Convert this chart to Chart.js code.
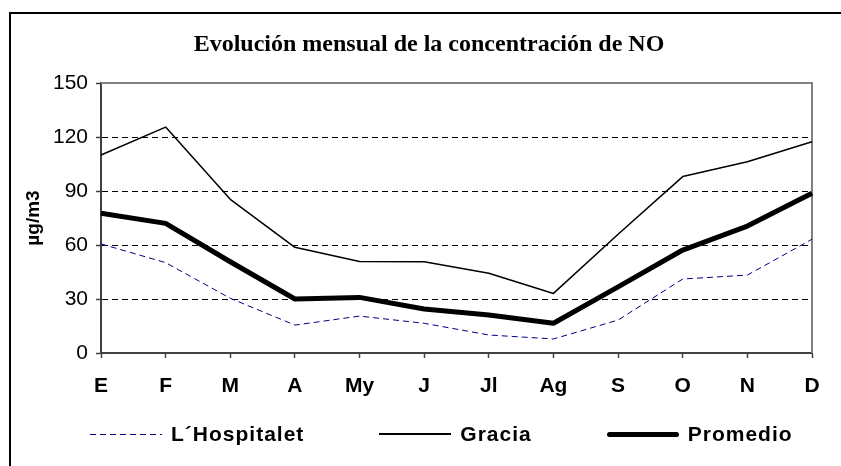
<!DOCTYPE html>
<html>
<head>
<meta charset="utf-8">
<script src="https://cdn.jsdelivr.net/npm/chart.js@4"></script>
<style>
  html, body { margin: 0; padding: 0; background: #fff; }
  #wrap { width: 841px; height: 466px; position: relative; overflow: hidden; }
  #leyenda {
    position: absolute; left: 90px; top: 421px; height: 26px;
    display: flex; align-items: center; gap: 75px;
    font: bold 21px "Liberation Sans", Arial, sans-serif; letter-spacing: 1px; color: #000;
  }
  #leyenda .item { display: flex; align-items: center; }
  #leyenda .linea { display: inline-block; width: 72px; margin-right: 9px; }
</style>
</head>
<body>
<div id="wrap">
  <canvas id="grafico" width="841" height="466"></canvas>
  <div id="leyenda"></div>
</div>
<script>
let meses = ['E', 'F', 'M', 'A', 'My', 'J', 'Jl', 'Ag', 'S', 'O', 'N', 'D'];
let hospitalet = [60.6, 50.2, 30.4, 15.5, 20.5, 16.5, 10, 7.8, 18.3, 41.1, 43.3, 63.2];
let gracia = [110, 125.5, 85.4, 58.7, 50.8, 50.7, 44.3, 33.1, 66, 98, 106.3, 117.4];
let promedio = [77.6, 72, 50.7, 30, 30.9, 24.4, 21.1, 16.5, 36.7, 57.2, 70.5, 88.7];
let ticksY = [0, 30, 60, 90, 120, 150];

// marco exterior y bordes gris del area de trazado
const marcos = {
    id: 'marcos',
    beforeDraw(chart) {
        const ctx = chart.ctx;
        ctx.save();
        ctx.strokeStyle = '#000';
        ctx.lineWidth = 2;
        ctx.beginPath();
        ctx.moveTo(10, 466);
        ctx.lineTo(10, 13);
        ctx.lineTo(841, 13);
        ctx.stroke();
        ctx.restore();
    },
    beforeDatasetsDraw(chart) {
        const a = chart.chartArea;
        const ctx = chart.ctx;
        ctx.save();
        ctx.strokeStyle = '#808080';
        ctx.lineWidth = 2;
        ctx.beginPath();
        ctx.moveTo(a.left, a.top);
        ctx.lineTo(a.right, a.top);
        ctx.lineTo(a.right, a.bottom);
        ctx.stroke();
        ctx.restore();
    }
};

// leyenda en html, hecha a partir de los datasets
const leyendaHtml = {
    id: 'leyendaHtml',
    afterUpdate(chart) {
        const caja = document.getElementById('leyenda');
        caja.innerHTML = '';
        chart.data.datasets.forEach(ds => {
            const item = document.createElement('div');
            item.className = 'item';
            const linea = document.createElement('span');
            linea.className = 'linea';
            linea.style.height = ds.borderWidth + 'px';
            if (ds.borderDash) {
                const [on, off] = ds.borderDash;
                linea.style.background = `repeating-linear-gradient(90deg, ${ds.borderColor} 0 ${on}px, transparent ${on}px ${on + off}px)`;
            } else {
                linea.style.background = ds.borderColor;
            }
            if (ds.borderWidth >= 4) linea.style.borderRadius = '3px';
            const texto = document.createElement('span');
            texto.textContent = ds.label;
            item.appendChild(linea);
            item.appendChild(texto);
            caja.appendChild(item);
        });
    }
};

new Chart(document.getElementById('grafico'), {
    type: 'line',
    data: {
        labels: meses,
        datasets: [
            { label: 'L´Hospitalet', data: hospitalet, borderColor: '#000080', borderWidth: 1, borderDash: [6, 4] },
            { label: 'Gracia', data: gracia, borderColor: '#000', borderWidth: 1.5 },
            { label: 'Promedio', data: promedio, borderColor: '#000', borderWidth: 5 }
        ]
    },
    options: {
        responsive: false,
        animation: false,
        devicePixelRatio: 1,
        elements: { point: { radius: 0 }, line: { tension: 0, borderJoinStyle: 'round' } },
        layout: { padding: { left: 46, right: 29, top: 15, bottom: 63 } },
        scales: {
            x: {
                offset: false,
                grid: { drawOnChartArea: false, tickLength: 5, tickColor: '#404040', tickWidth: 1.5 },
                border: { color: '#404040', width: 2 },
                ticks: { color: '#000', padding: 16, maxRotation: 0, autoSkip: false, font: { family: 'Liberation Sans', size: 21, weight: 'bold' } },
                afterFit: s => { s.height = 50; }
            },
            y: {
                min: 0,
                max: 150,
                afterBuildTicks: s => { s.ticks = ticksY.map(v => ({ value: v })); },
                grid: {
                    color: c => c.tick && c.tick.value === 150 ? 'rgba(0,0,0,0)' : '#000',
                    lineWidth: 1,
                    tickLength: 5,
                    tickColor: '#404040',
                    tickWidth: 1.5
                },
                border: { color: '#404040', width: 2, dash: [6, 4] },
                ticks: { color: '#000', padding: 8, font: { family: 'Liberation Sans', size: 21 } },
                title: {
                    display: true,
                    text: 'µg/m3',
                    color: '#000',
                    padding: { top: -24, bottom: 0 },
                    font: { family: 'Liberation Sans', size: 19, weight: 'bold' }
                },
                afterFit: s => { s.width = 55; }
            }
        },
        plugins: {
            title: {
                display: true,
                text: 'Evolución mensual de la concentración de NO',
                color: '#000',
                padding: { top: 15.6, bottom: 23.6 },
                font: { family: 'Liberation Serif', size: 24, weight: 'bold' }
            },
            legend: { display: false },
            tooltip: { enabled: false }
        }
    },
    plugins: [marcos, leyendaHtml]
});
</script>
</body>
</html>
